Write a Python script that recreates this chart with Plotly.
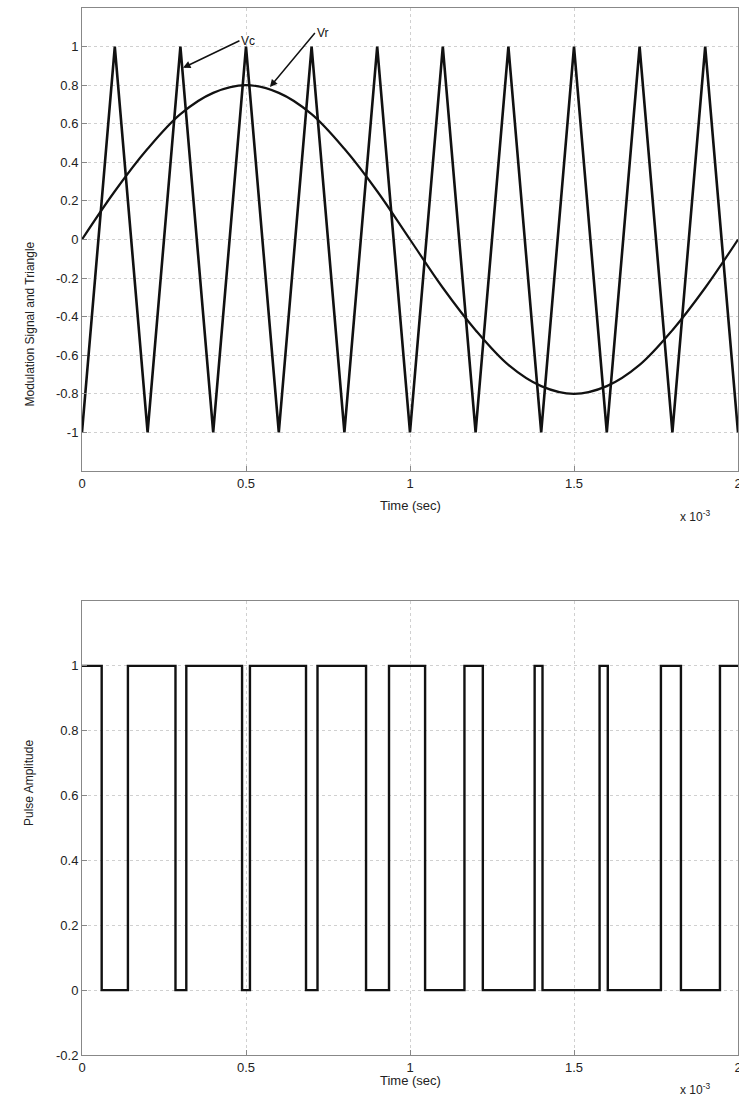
import plotly.graph_objects as go

# ---- data (time in ms, axis shown with x 10^-3 multiplier) ----
carrier_t = [0.0, 0.1, 0.2, 0.3, 0.4, 0.5, 0.6, 0.7, 0.8, 0.9, 1.0,
             1.1, 1.2, 1.3, 1.4, 1.5, 1.6, 1.7, 1.8, 1.9, 2.0]
carrier_v = [-1, 1, -1, 1, -1, 1, -1, 1, -1, 1, -1,
             1, -1, 1, -1, 1, -1, 1, -1, 1, -1]

ref_t = [0.0, 0.1, 0.2, 0.3, 0.4, 0.5, 0.6, 0.7, 0.8, 0.9, 1.0,
         1.1, 1.2, 1.3, 1.4, 1.5, 1.6, 1.7, 1.8, 1.9, 2.0]
ref_v = [0.0, 0.25, 0.47, 0.65, 0.76, 0.80, 0.76, 0.65, 0.47, 0.25, 0.0,
         -0.25, -0.47, -0.65, -0.76, -0.80, -0.76, -0.65, -0.47, -0.25, 0.0]

# PWM switching instants (ms) and levels held after each instant
pwm_edges = [0.0, 0.060, 0.140, 0.285, 0.318, 0.488, 0.512, 0.683, 0.718,
             0.866, 0.936, 1.046, 1.166, 1.222, 1.380, 1.404, 1.578, 1.603,
             1.765, 1.826, 1.945, 2.0]
pwm_levels = [1, 0, 1, 0, 1, 0, 1, 0, 1, 0, 1, 0, 1, 0, 1, 0, 1, 0, 1, 0, 1, 1]

x_ticks = [0, 0.5, 1, 1.5, 2]
x_labels = ["0", "0.5", "1", "1.5", "2"]
top_yticks = [-1, -0.8, -0.6, -0.4, -0.2, 0, 0.2, 0.4, 0.6, 0.8, 1]
top_ylabels = ["-1", "-0.8", "-0.6", "-0.4", "-0.2", "0", "0.2", "0.4", "0.6", "0.8", "1"]
bot_yticks = [-0.2, 0, 0.2, 0.4, 0.6, 0.8, 1]
bot_ylabels = ["-0.2", "0", "0.2", "0.4", "0.6", "0.8", "1"]

FONT = "Liberation Sans, Arial, sans-serif"
W, H = 739, 1108

fig = go.Figure()
fig.add_trace(go.Scatter(x=carrier_t, y=carrier_v, mode="lines",
                         line=dict(color="#111111", width=2.6), xaxis="x", yaxis="y",
                         showlegend=False, hoverinfo="skip"))
fig.add_trace(go.Scatter(x=ref_t, y=ref_v, mode="lines",
                         line=dict(color="#111111", width=2.2, shape="spline", smoothing=1.0),
                         xaxis="x", yaxis="y", showlegend=False, hoverinfo="skip"))
fig.add_trace(go.Scatter(x=pwm_edges, y=pwm_levels, mode="lines",
                         line=dict(color="#111111", width=2.4, shape="hv"),
                         xaxis="x2", yaxis="y2", showlegend=False, hoverinfo="skip"))

def px_x(p):
    return p / W

def px_y(p):
    return 1 - p / H

axis_common = dict(showline=True, mirror=True, linecolor="#888888", linewidth=1,
                   ticks="inside", ticklen=5, tickcolor="#888888", automargin=False,
                   ticklabeloverflow="allow",
                   showgrid=True, gridcolor="#d0d0d0", griddash="dot", gridwidth=1,
                   zeroline=False, tickfont=dict(family=FONT, size=13, color="#222222"))

fig.update_layout(
    width=W, height=H, margin=dict(l=0, r=0, t=0, b=0, autoexpand=False),
    paper_bgcolor="white", plot_bgcolor="white",
    xaxis=dict(domain=[px_x(82), px_x(738)], range=[0, 2], anchor="y",
               tickvals=x_ticks, ticktext=x_labels, **axis_common),
    yaxis=dict(domain=[px_y(471), px_y(8)], range=[-1.2, 1.2], anchor="x",
               tickvals=top_yticks, ticktext=top_ylabels, **axis_common),
    xaxis2=dict(domain=[px_x(82), px_x(738)], range=[0, 2], anchor="y2",
                tickvals=x_ticks, ticktext=x_labels, **axis_common),
    yaxis2=dict(domain=[px_y(1055), px_y(601)], range=[-0.2, 1.2], anchor="x2",
                tickvals=bot_yticks, ticktext=bot_ylabels, **axis_common),
)

txt = dict(family=FONT, size=13, color="#222222")
annots = [
    dict(x=px_x(410), y=px_y(505), xref="paper", yref="paper", text="Time (sec)",
         showarrow=False, font=txt),
    dict(x=px_x(712), y=px_y(516), xref="paper", yref="paper", text="x 10<sup>-3</sup>",
         showarrow=False, font=dict(family=FONT, size=12, color="#222222")),
    dict(x=px_x(20), y=px_y(240), xref="paper", yref="paper",
         text="Modulation Signal and Triangle", textangle=-90, showarrow=False,
         font=dict(family=FONT, size=12, color="#222222")),
    dict(x=px_x(410), y=px_y(1090), xref="paper", yref="paper", text="Time (sec)",
         showarrow=False, font=txt),
    dict(x=px_x(712), y=px_y(1099), xref="paper", yref="paper", text="x 10<sup>-3</sup>",
         showarrow=False, font=dict(family=FONT, size=12, color="#222222")),
    dict(x=px_x(20), y=px_y(828), xref="paper", yref="paper",
         text="Pulse Amplitude", textangle=-90, showarrow=False,
         font=dict(family=FONT, size=12, color="#222222")),
    # Vc / Vr labels with arrows
    dict(x=0.308, y=0.89, xref="x", yref="y", ax=0.48, ay=1.03, axref="x", ayref="y",
         text="Vc", showarrow=True, arrowhead=2, arrowsize=1, arrowwidth=1.5,
         arrowcolor="#111111", xanchor="left", font=dict(family=FONT, size=12, color="#111111")),
    dict(x=0.573, y=0.79, xref="x", yref="y", ax=0.71, ay=1.07, axref="x", ayref="y",
         text="Vr", showarrow=True, arrowhead=2, arrowsize=1, arrowwidth=1.5,
         arrowcolor="#111111", xanchor="left", font=dict(family=FONT, size=12, color="#111111")),
]
fig.update_layout(annotations=annots)

fig.write_html("out.html", config={"displayModeBar": False},
               post_script="document.body.style.margin='0';document.body.style.overflow='hidden';")
